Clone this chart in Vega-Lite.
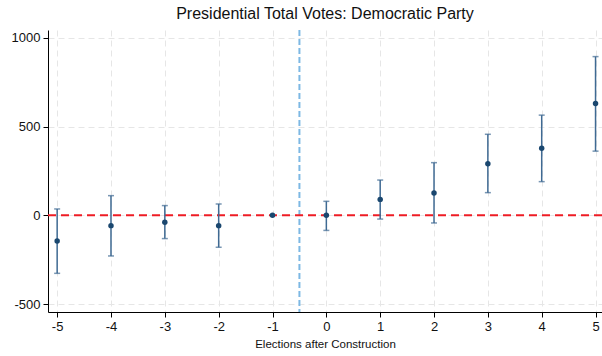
{
  "$schema": "https://vega.github.io/schema/vega-lite/v6.json",
  "width": 554,
  "height": 282,
  "autosize": {"type": "none"},
  "padding": {"left": 48, "top": 30, "right": 0, "bottom": 44},
  "background": "white",
  "title": {
    "text": "Presidential Total Votes: Democratic Party",
    "font": "Liberation Sans",
    "fontSize": 16,
    "fontWeight": "normal",
    "color": "#111111",
    "anchor": "middle",
    "offset": 7
  },
  "config": {
    "view": {"stroke": null},
    "axis": {
      "labelFont": "Liberation Sans",
      "titleFont": "Liberation Sans",
      "labelColor": "#111111",
      "titleColor": "#111111",
      "domainColor": "#000000",
      "tickColor": "#000000",
      "gridColor": "#e6e6e6",
      "gridDash": [6, 4],
      "gridWidth": 1
    }
  },
  "datasets": {
    "est": [
      {"t": -5, "b": -145, "lo": -327, "hi": 36},
      {"t": -4, "b": -58, "lo": -229, "hi": 111},
      {"t": -3, "b": -39, "lo": -131, "hi": 55},
      {"t": -2, "b": -58, "lo": -180, "hi": 64},
      {"t": -1, "b": 0, "lo": null, "hi": null},
      {"t": 0, "b": 0, "lo": -85, "hi": 79},
      {"t": 1, "b": 90, "lo": -21, "hi": 199},
      {"t": 2, "b": 126, "lo": -43, "hi": 297},
      {"t": 3, "b": 291, "lo": 128, "hi": 457},
      {"t": 4, "b": 378, "lo": 190, "hi": 565},
      {"t": 5, "b": 630, "lo": 362, "hi": 895}
    ],
    "one": [{"k": 1}]
  },
  "layer": [
    {
      "data": {"name": "one"},
      "mark": {"type": "rule", "color": "#7db8e4", "strokeDash": [6, 3], "strokeWidth": 2},
      "encoding": {
        "x": {
          "datum": -0.5,
          "type": "quantitative",
          "scale": {"domain": [-5.17, 5.12], "nice": false, "zero": false},
          "axis": {
            "values": [-5, -4, -3, -2, -1, 0, 1, 2, 3, 4, 5],
            "labelExpr": "'' + datum.value",
            "title": "Elections after Construction",
            "titleFontSize": 11.5,
            "titleFontWeight": "normal",
            "titlePadding": 5,
            "labelFontSize": 13,
            "tickSize": 5,
            "labelPadding": 3,
            "grid": true
          }
        }
      }
    },
    {
      "data": {"name": "one"},
      "mark": {"type": "rule", "color": "#ee1c25", "strokeDash": [8, 5], "strokeWidth": 2},
      "encoding": {
        "y": {
          "datum": 0,
          "type": "quantitative",
          "scale": {"domain": [-545, 1045], "nice": false, "zero": false},
          "axis": {
            "values": [-500, 0, 500, 1000],
            "labelExpr": "'' + datum.value",
            "title": null,
            "labelFontSize": 13,
            "tickSize": 5,
            "labelPadding": 3,
            "grid": true
          }
        }
      }
    },
    {
      "data": {"name": "est"},
      "transform": [{"filter": "datum.lo != null"}],
      "mark": {"type": "rule", "color": "#3f6a93", "strokeWidth": 1.5},
      "encoding": {
        "x": {"field": "t", "type": "quantitative"},
        "y": {"field": "lo", "type": "quantitative"},
        "y2": {"field": "hi"}
      }
    },
    {
      "data": {"name": "est"},
      "transform": [{"filter": "datum.lo != null"}],
      "mark": {"type": "tick", "color": "#3f6a93", "orient": "horizontal", "size": 6, "thickness": 1.5},
      "encoding": {
        "x": {"field": "t", "type": "quantitative"},
        "y": {"field": "lo", "type": "quantitative"}
      }
    },
    {
      "data": {"name": "est"},
      "transform": [{"filter": "datum.lo != null"}],
      "mark": {"type": "tick", "color": "#3f6a93", "orient": "horizontal", "size": 6, "thickness": 1.5},
      "encoding": {
        "x": {"field": "t", "type": "quantitative"},
        "y": {"field": "hi", "type": "quantitative"}
      }
    },
    {
      "data": {"name": "est"},
      "mark": {"type": "point", "filled": true, "color": "#1a476f", "opacity": 1, "size": 30},
      "encoding": {
        "x": {"field": "t", "type": "quantitative"},
        "y": {"field": "b", "type": "quantitative"}
      }
    }
  ]
}
